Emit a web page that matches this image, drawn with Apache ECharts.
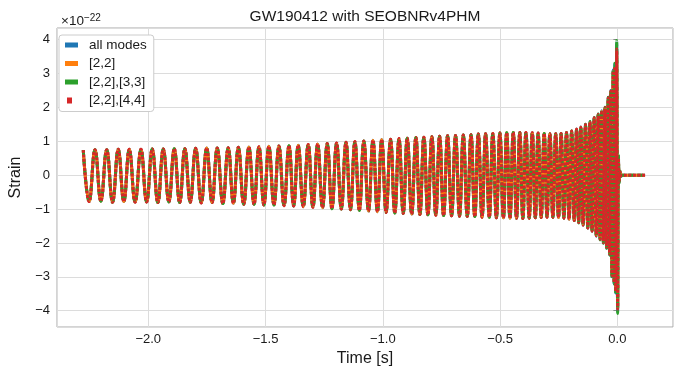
<!DOCTYPE html>
<html>
<head>
<meta charset="utf-8">
<script src="https://cdn.jsdelivr.net/npm/echarts@6/dist/echarts.min.js"></script>
<style>html,body{margin:0;padding:0;background:#fff}#c{width:678px;height:370px}</style>
</head>
<body>
<div id="c"></div>
<script>
// ---- data (strain in units of 1e-22, time in s) ----
const seriesNames = ['all modes', '[2,2]', '[2,2],[3,3]', '[2,2],[4,4]'];
const xTickLabels = ['−2.0', '−1.5', '−1.0', '−0.5', '0.0'];
const yTickLabels = ['−4', '−3', '−2', '−1', '0', '1', '2', '3', '4'];

// times of successive extrema (peak, trough, ...) then ringdown
const time = [
-2.277,-2.252,-2.227,-2.202,-2.177,-2.152,-2.128,-2.104,-2.081,-2.056,
-2.031,-2.007,-1.983,-1.959,-1.936,-1.912,-1.889,-1.866,-1.844,-1.821,
-1.798,-1.774,-1.751,-1.728,-1.706,-1.682,-1.659,-1.637,-1.616,-1.593,
-1.571,-1.549,-1.528,-1.507,-1.486,-1.464,-1.443,-1.421,-1.400,-1.380,
-1.361,-1.339,-1.318,-1.298,-1.278,-1.257,-1.237,-1.217,-1.197,-1.177,
-1.157,-1.138,-1.119,-1.100,-1.081,-1.061,-1.042,-1.023,-1.005,-0.986,
-0.967,-0.949,-0.931,-0.913,-0.896,-0.877,-0.859,-0.842,-0.825,-0.808,
-0.791,-0.774,-0.758,-0.741,-0.724,-0.707,-0.690,-0.673,-0.657,-0.640,
-0.624,-0.608,-0.593,-0.577,-0.562,-0.546,-0.531,-0.516,-0.501,-0.486,
-0.472,-0.458,-0.444,-0.430,-0.416,-0.403,-0.390,-0.376,-0.363,-0.350,
-0.338,-0.325,-0.312,-0.300,-0.288,-0.275,-0.263,-0.251,-0.240,-0.228,
-0.217,-0.206,-0.195,-0.184,
-0.174,-0.165,-0.156,-0.146,-0.136,-0.126,-0.117,-0.108,-0.099,-0.090,
-0.082,-0.074,-0.067,-0.060,-0.053,-0.046,-0.039,-0.033,-0.028,-0.023,
-0.018,-0.014,-0.011,-0.007,-0.003,0.001,
0.004,0.007,0.011,0.015,0.020,0.118
];

// inspiral part, common to all mode sets
const strainInspiral = [
0.74,-0.78,0.75,-0.77,0.75,-0.80,0.76,-0.78,0.76,-0.80,
0.76,-0.79,0.77,-0.81,0.77,-0.79,0.78,-0.81,0.78,-0.80,
0.79,-0.82,0.80,-0.81,0.80,-0.84,0.81,-0.83,0.82,-0.86,
0.83,-0.86,0.84,-0.88,0.85,-0.88,0.86,-0.90,0.87,-0.91,
0.88,-0.93,0.90,-0.95,0.92,-0.96,0.93,-0.99,0.95,-1.00,
0.97,-1.02,0.99,-1.04,1.01,-1.06,1.03,-1.08,1.05,-1.10,
1.06,-1.12,1.08,-1.13,1.09,-1.15,1.11,-1.16,1.12,-1.17,
1.13,-1.18,1.15,-1.19,1.16,-1.20,1.17,-1.21,1.18,-1.22,
1.19,-1.22,1.21,-1.24,1.22,-1.24,1.23,-1.26,1.24,-1.26,
1.25,-1.27,1.26,-1.27,1.26,-1.28,1.26,-1.27,1.25,-1.26,
1.24,-1.25,1.23,-1.24,1.22,-1.24,1.22,-1.25,1.23,-1.27,
1.26,-1.30,1.30,-1.34
];

// late inspiral, merger and ringdown per mode set
const mergerAll = [
1.36,-1.40,1.42,-1.48,1.50,-1.57,1.58,-1.66,1.70,-1.80,
1.80,-1.90,1.90,-2.00,2.00,-2.15,2.30,-2.35,2.50,-3.00,
3.10,-3.20,3.28,-3.48,3.90,-4.02,
0.55,-0.22,0.10,-0.03,0,0
];
const merger22 = [
1.35,-1.39,1.41,-1.47,1.49,-1.56,1.57,-1.65,1.68,-1.78,
1.78,-1.88,1.88,-1.98,1.98,-2.12,2.26,-2.32,2.46,-2.95,
3.05,-3.15,3.15,-3.40,3.65,-3.90,
0.50,-0.20,0.10,-0.02,0,0
];
const merger33 = [
1.36,-1.41,1.42,-1.49,1.50,-1.58,1.58,-1.67,1.70,-1.81,
1.80,-1.91,1.90,-2.01,2.00,-2.16,2.30,-2.36,2.50,-3.02,
3.10,-3.22,3.30,-3.52,3.97,-4.08,
0.60,-0.25,0.12,-0.03,0,0
];
const merger44 = [
1.35,-1.40,1.41,-1.47,1.49,-1.56,1.57,-1.65,1.69,-1.79,
1.79,-1.89,1.89,-1.99,1.99,-2.13,2.28,-2.33,2.48,-2.97,
3.07,-3.17,3.20,-3.42,3.72,-3.95,
0.50,-0.20,0.10,-0.02,0,0
];

const colors = ['#1f77b4', '#ff7f0e', '#2ca02c', '#d62728'];
const strainSets = [
  strainInspiral.concat(mergerAll),
  strainInspiral.concat(merger22),
  strainInspiral.concat(merger33),
  strainInspiral.concat(merger44)
];
const dashes = ['solid', 'solid', [6, 3], [3, 1.5]];

const FONT = '"Liberation Sans", Arial, Helvetica, sans-serif';
const chart = echarts.init(document.getElementById('c'), null, {renderer: 'canvas'});

const fmt = s => s.replace('-', '−');

const series = seriesNames.map((name, i) => ({
  name: name,
  type: 'line',
  data: time.map((t, k) => [t, strainSets[i][k]]),
  showSymbol: false,
  smooth: 0.45,
  smoothMonotone: 'x',
  sampling: null,
  lineStyle: {color: colors[i], width: 3, type: dashes[i], cap: 'butt'},
  itemStyle: {color: colors[i]},
  z: 2 + i,
  emphasis: {disabled: true},
  silent: true
}));

const barIcon = 'path://M0,0h0.01M0,0.5h13v5h-13zM19,6h0.01';
const dotIcon = 'path://M0,0h0.01M2,0h5v6h-5zM19,6h0.01';
const iconStyle = c => ({color: c, borderWidth: 0, borderColor: 'transparent', borderType: 'solid'});
const iconLine = {width: 0, type: 'solid', color: 'transparent'};

chart.setOption({
  animation: false,
  backgroundColor: '#ffffff',
  textStyle: {fontFamily: FONT},
  title: [
    {text: 'GW190412 with SEOBNRv4PHM', left: 360, top: 4, textAlign: 'center',
     textStyle: {fontFamily: FONT, fontSize: 15.5, fontWeight: 'normal', color: '#1a1a1a'}},
    {text: '×10{s|−22}', left: 56, top: 8,
     textStyle: {fontFamily: FONT, fontSize: 13.5, fontWeight: 'normal', color: '#1a1a1a',
       rich: {s: {fontFamily: FONT, fontSize: 10, color: '#1a1a1a', verticalAlign: 'top', padding: [0, 0, 6, 0]}}}}
  ],
  legend: {
    left: 59, top: 35, orient: 'vertical',
    padding: [3, 7, 4, 6], itemGap: 4.5,
    itemWidth: 19, itemHeight: 6,
    backgroundColor: '#ffffff', borderColor: '#cccccc', borderWidth: 1, borderRadius: 3,
    textStyle: {fontFamily: FONT, fontSize: 13.5, color: '#1a1a1a', lineHeight: 14},
    itemStyle: {borderWidth: 0},
    lineStyle: iconLine,
    data: [
      {name: seriesNames[0], icon: barIcon, itemStyle: iconStyle(colors[0]), lineStyle: iconLine},
      {name: seriesNames[1], icon: barIcon, itemStyle: iconStyle(colors[1]), lineStyle: iconLine},
      {name: seriesNames[2], icon: barIcon, itemStyle: iconStyle(colors[2]), lineStyle: iconLine},
      {name: seriesNames[3], icon: dotIcon, itemStyle: iconStyle(colors[3]), lineStyle: iconLine}
    ],
    selectedMode: false
  },
  grid: {left: 57, right: 5, top: 28, bottom: 43, show: true, borderColor: '#a8a8a8', borderWidth: 1,
    backgroundColor: 'transparent', containLabel: false, outerBoundsMode: 'none'},
  xAxis: {
    type: 'value', min: -2.389, max: 0.237, splitNumber: 5,
    name: 'Time [s]', nameLocation: 'middle', nameGap: 24,
    nameTextStyle: {fontFamily: FONT, fontSize: 16, color: '#1a1a1a'},
    axisLine: {show: false},
    axisTick: {show: true, length: 4, inside: false, lineStyle: {color: '#888'}},
    axisLabel: {fontFamily: FONT, fontSize: 13, color: '#1a1a1a', margin: 6,
      showMinLabel: false, showMaxLabel: false,
      formatter: v => { const s = fmt(v.toFixed(1)); return xTickLabels.indexOf(s) >= 0 ? s : ''; }},
    splitLine: {show: true, lineStyle: {color: '#dcdcdc', width: 1}}
  },
  yAxis: {
    type: 'value', min: -4.48, max: 4.34, splitNumber: 9,
    name: 'Strain', nameLocation: 'middle', nameGap: 33,
    nameTextStyle: {fontFamily: FONT, fontSize: 16, color: '#1a1a1a'},
    axisLine: {show: false},
    axisTick: {show: true, length: 4, inside: false, lineStyle: {color: '#888'}},
    axisLabel: {fontFamily: FONT, fontSize: 13, color: '#1a1a1a', margin: 7,
      showMinLabel: false, showMaxLabel: false,
      formatter: v => { const s = fmt(String(Math.round(v * 100) / 100)); return yTickLabels.indexOf(s) >= 0 ? s : ''; }},
    splitLine: {show: true, lineStyle: {color: '#dcdcdc', width: 1}}
  },
  series: series
});
</script>
</body>
</html>
